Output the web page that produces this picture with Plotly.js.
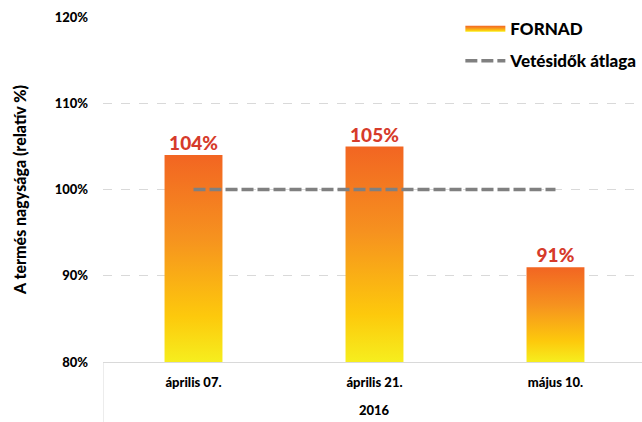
<!DOCTYPE html>
<html>
<head>
<meta charset="utf-8">
<script src="https://cdn.plot.ly/plotly-3.0.1.min.js"></script>
<style>html,body{margin:0;padding:0;background:#fff;}#chart{width:642px;height:422px;}</style>
</head>
<body>
<div id="chart"></div>
<script>
const categories = ['április 07.', 'április 21.', 'május 10.'];
const fornad = [104, 105, 91];
const average = [100, 100, 100];
const groupLabel = '2016';
const yTickVals = [80, 90, 100, 110, 120];
const seriesNames = ['FORNAD', 'Vetésidők átlaga'];

const FONT = 'Lato, "Open Sans", sans-serif';
const W = 900;
const barHalf = 0.16;
const baseVal = 80;
const gradient = [[0, '#F6EE1E'], [0.22, '#FDC90C'], [0.6, '#F6921F'], [1, '#F26522']];

const traces = [];
categories.forEach((c, i) => {
  const v = fornad[i];
  traces.push({
    type: 'scatter', mode: 'none', fill: 'toself',
    x: [i - barHalf, i + barHalf, i + barHalf, i - barHalf, i - barHalf],
    y: [baseVal, baseVal, v, v, baseVal],
    fillcolor: '#F6921F',
    fillgradient: {type: 'vertical', colorscale: gradient, start: baseVal, stop: v},
    name: seriesNames[0], legendgroup: 'a', showlegend: i === 0,
    hoverinfo: 'skip'
  });
});
traces.push({
  type: 'scatter', mode: 'lines',
  x: categories.map((c, i) => i), y: average,
  line: {color: '#808080', width: 3.5, dash: '12px,4px'},
  name: seriesNames[1], legendgroup: 'b'
});
traces.push({
  type: 'scatter', mode: 'text',
  x: categories.map((c, i) => i), y: fornad,
  text: fornad.map(v => v + '%'), textposition: 'top center',
  textfont: {family: FONT, size: 19, color: '#D63B2B', weight: W},
  showlegend: false, hoverinfo: 'skip'
});

const layout = {
  width: 642, height: 422,
  margin: {l: 103, r: 0, t: 17, b: 60, autoexpand: false},
  paper_bgcolor: '#fff', plot_bgcolor: '#fff',
  font: {family: FONT, size: 13, color: '#000', weight: W},
  showlegend: true,
  legend: {x: 0.663, y: 1.017, xanchor: 'left', yanchor: 'top', bgcolor: 'rgba(0,0,0,0)',
           font: {family: FONT, size: 17, color: '#000', weight: W},
           traceorder: 'grouped', tracegroupgap: 7, itemwidth: 40},
  xaxis: {range: [-0.5, 2.478], tickvals: categories.map((c, i) => i), ticktext: categories,
          showgrid: false, zeroline: false, showline: true, linecolor: '#d9d9d9', linewidth: 1,
          ticks: '', ticklabelstandoff: 8, tickfont: {family: FONT, size: 13, color: '#000', weight: W},
          fixedrange: true},
  yaxis: {range: [80, 120], tickvals: yTickVals, ticktext: yTickVals.map(v => v + '%'),
          showgrid: true, gridcolor: '#d9d9d9', griddash: 'dash', gridwidth: 1,
          zeroline: false, showline: false, ticks: '', ticklabelstandoff: 14,
          tickfont: {family: FONT, size: 13, color: '#000', weight: W},
          title: {text: 'A termés nagysága (relatív %)', standoff: 24,
                  font: {family: FONT, size: 16, color: '#000', weight: W}},
          fixedrange: true},
  shapes: [
    {type: 'line', xref: 'x', yref: 'paper', x0: -0.5, x1: -0.5, y0: 0, y1: -0.18,
     line: {color: '#d9d9d9', width: 1}}
  ],
  annotations: [
    {text: groupLabel, xref: 'x', yref: 'paper', x: 1, y: 0, yshift: -48, yanchor: 'middle',
     showarrow: false, font: {family: FONT, size: 13, color: '#000', weight: W}}
  ]
};

Plotly.newPlot('chart', traces, layout, {displayModeBar: false, staticPlot: true});
</script>
</body>
</html>
